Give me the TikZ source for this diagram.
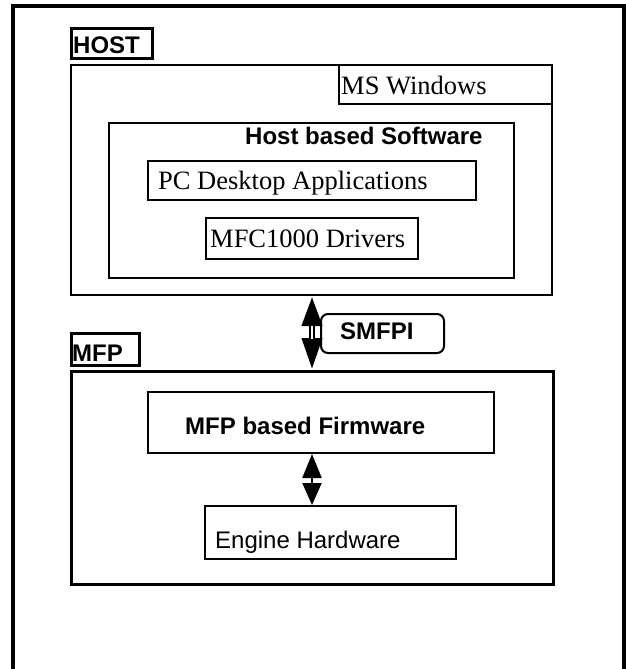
\documentclass[tikz,border=0pt]{standalone}
\usepackage{fontspec}
\setmainfont{Liberation Serif}
\setsansfont{Liberation Sans}
\usetikzlibrary{arrows.meta}
\begin{document}
\begin{tikzpicture}[x=1pt,y=-1pt,
  box/.style={draw, line width=2pt, inner sep=0pt, anchor=north west},
  lbl/.style={draw, line width=2.6pt, inner sep=0pt, anchor=north west},
  serif/.style={inner sep=0pt, anchor=base west, font=\rmfamily\fontsize{26.5}{30}\selectfont},
  sansb/.style={inner sep=0pt, anchor=base west, font=\sffamily\bfseries\fontsize{24}{28}\selectfont},
  sansr/.style={inner sep=0pt, anchor=base west, font=\sffamily\fontsize{24}{28}\selectfont},
  bigarrow/.style={line width=6.5pt, {Triangle[width=19pt,length=30pt]}-{Triangle[width=19pt,length=32pt]}},
  smallarrow/.style={line width=2.2pt, {Triangle[width=19pt,length=24pt]}-{Triangle[width=19pt,length=22pt]}}
]
\useasboundingbox (0,0) rectangle (626,669);
% outer frame (open at the bottom, beyond the picture)
\draw[line width=3.5pt] (13,675) -- (13,6) -- (624,6) -- (624,675);

% HOST
\node[lbl, minimum width=81pt, minimum height=30pt] (hostlbl) at (70,27) {};
\node[sansb] (hosttxt) at (73,53) {HOST};
\node[box, minimum width=481pt, minimum height=230pt] (hostbox) at (70,64) {};
\node[box, minimum width=213pt, minimum height=39pt] (mswin) at (338,64) {};
\node[serif] (mswintxt) at (341,94) {MS Windows};
\node[box, line width=2.4pt, minimum width=405pt, minimum height=155pt] (hbs) at (108,122) {};
\node[sansb] (hbstxt) at (245,144) {Host based Software};
\node[box, minimum width=328pt, minimum height=39pt] (pcapp) at (147,160) {};
\node[serif] (pcapptxt) at (158,189) {PC Desktop Applications};
\node[box, minimum width=212pt, minimum height=41pt] (drv) at (205,217) {};
\node[serif] (drvtxt) at (210,247) {MFC1000 Drivers};

% SMFPI
\coordinate (ax) at (312,0);
\draw[bigarrow] (hostbox.south -| ax) -- (312,370);
\draw[white, line width=2.5pt] (312,326) -- (312,339);
\node[draw, line width=2pt, rounded corners=7pt, inner sep=0pt, anchor=north west,
      minimum width=123pt, minimum height=39pt] (smfpi) at (320,313) {};
\node[sansb] (smfpitxt) at (340,339) {SMFPI};

% MFP
\node[lbl, minimum width=68pt, minimum height=32pt] (mfplbl) at (70,332) {};
\node[sansb] (mfptxt) at (72,361) {MFP};
\node[box, line width=2.8pt, minimum width=482pt, minimum height=213pt] (mfpbox) at (70,370) {};
\node[box, minimum width=346pt, minimum height=61pt] (fw) at (147,391) {};
\node[sansb] (fwtxt) at (185,434) {MFP based Firmware};
\node[box, minimum width=251pt, minimum height=53pt] (eng) at (204,505) {};
\node[sansr] (engtxt) at (215,548) {Engine Hardware};
\draw[smallarrow] (fw.south -| ax) -- (eng.north -| ax);
\end{tikzpicture}
\end{document}
